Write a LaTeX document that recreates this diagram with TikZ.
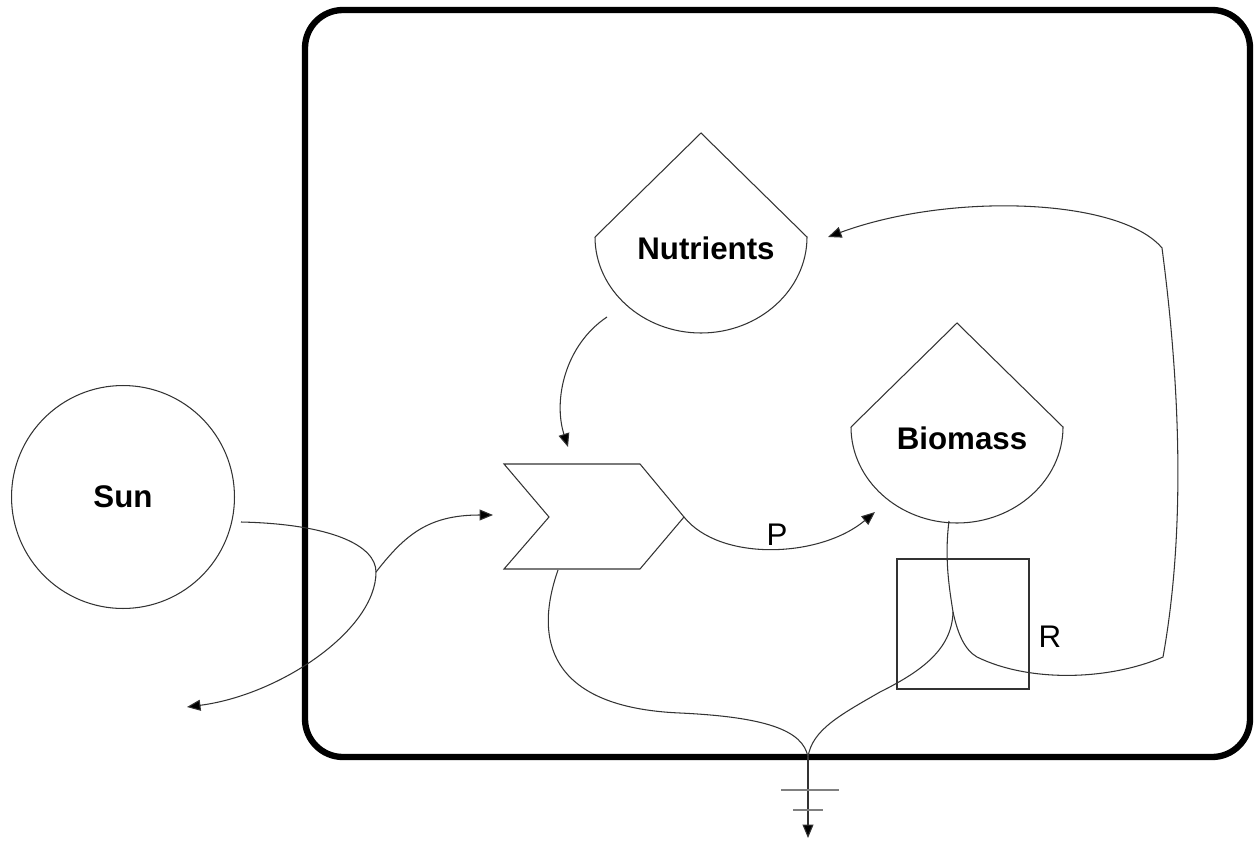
\documentclass[tikz,border=0pt]{standalone}
\usepackage{fontspec}
\setmainfont{Liberation Sans}
\usetikzlibrary{arrows.meta}

\begin{document}
\begin{tikzpicture}[x=0.02cm, y=-0.02cm, line width=0.6pt, draw=black!80,
    flow/.style={-{Triangle[length=0.27cm, width=0.22cm, fill=black]}},
    lbl/.style={font=\fontsize{17.8}{20}\selectfont\bfseries},
    sym/.style={font=\fontsize{17.8}{20}\selectfont}]
  \useasboundingbox (0,0) rectangle (1257,841);
  % system boundary
  \draw[draw=black, line width=3.6pt, rounded corners=0.76cm] (305,10) rectangle (1250,757);
  % source
  \node[circle, draw, minimum size=4.46cm, lbl] (sun) at (123,497) {Sun};
  % storage tanks
  \foreach \cx/\cy/\n/\t in {701/237/nut/Nutrients, 957/427/bio/Biomass} {
    \draw (\cx-106,\cy) -- (\cx,\cy-104) -- (\cx+106,\cy)
      .. controls (\cx+106,\cy+53) and (\cx+58,\cy+96) .. (\cx,\cy+96)
      .. controls (\cx-58,\cy+96) and (\cx-106,\cy+53) .. (\cx-106,\cy);
    \node[lbl] (\n) at (\cx+5,\cy+11) {\t};
  }
  % producer
  \draw (504,464) -- (640,464) -- (684,517) -- (640,569) -- (504,569) -- (549,517) -- cycle;
  % respiration box
  \node[draw, minimum width=2.64cm, minimum height=2.6cm] (rbox) at (963,624) {};
  \node[sym] (r) at (1050,637) {R};
  \node[sym] (p) at (777,535) {P};
  % connection points
  \coordinate (sun-out) at (241,522);
  \coordinate (split) at (376,572);
  \coordinate (sink-l) at (187,707);
  \coordinate (prod-in) at (493,515);
  \coordinate (nut-out) at (607,317);
  \coordinate (prod-top) at (568,447);
  \coordinate (prod-tip) at (684,517);
  \coordinate (bio-in) at (875,512);
  \coordinate (prod-bot) at (558,570);
  \coordinate (bio-out) at (949,521);
  \coordinate (resp) at (953,612);
  \coordinate (nut-in) at (828,237);
  \coordinate (ground) at (808,757);
  \coordinate (earth) at (808,838);
  % flows
  \draw[flow] (sun-out) .. controls (330,524) and (376,545) .. (split)
    .. controls (376,630) and (280,695) .. (sink-l);
  \draw[flow] (split) .. controls (405,535) and (428,515) .. (prod-in);
  \draw[flow] (nut-out) .. controls (565,345) and (553,400) .. (prod-top);
  \draw[flow] (prod-tip) .. controls (720,562) and (820,558) .. (bio-in);
  \draw (prod-bot) .. controls (530,650) and (560,708) .. (680,713)
    .. controls (765,717) and (803,730) .. (ground);
  \draw (bio-out) .. controls (944,560) and (950,592) .. (resp);
  \draw (resp) .. controls (952,650) and (920,672) .. (880,692)
    .. controls (840,715) and (812,730) .. (ground);
  \draw[flow] (resp) .. controls (958,635) and (965,650) .. (977,657)
    .. controls (1030,683) and (1110,680) .. (1163,657)
    .. controls (1184,540) and (1182,400) .. (1162,248)
    .. controls (1120,198) and (950,192) .. (nut-in);
  % heat sink
  \draw[flow] (ground) -- (earth);
  \draw[black!50] (781,790) -- (839,790) (793,810) -- (823,810);
\end{tikzpicture}
\end{document}
